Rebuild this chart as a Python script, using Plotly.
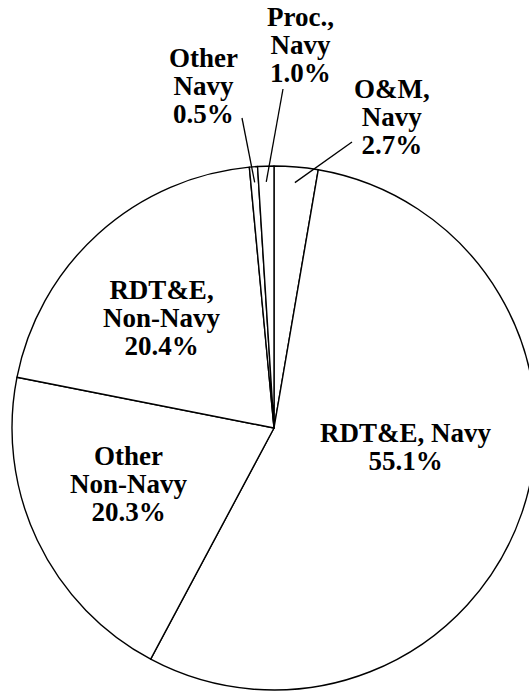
import math
import plotly.graph_objects as go

# Budget shares by category, listed clockwise from 12 o'clock
categories = ["O&M, Navy", "RDT&E, Navy", "Other Non-Navy",
              "RDT&E, Non-Navy", "Other Navy", "Proc., Navy"]
shares = [2.7, 55.1, 20.3, 20.4, 0.5, 1.0]
# How each category name is broken across lines on the chart
label_lines = [["O&M,", "Navy"], ["RDT&E, Navy"], ["Other", "Non-Navy"],
               ["RDT&E,", "Non-Navy"], ["Other", "Navy"], ["Proc.,", "Navy"]]

# ---- page geometry (pixels) ----
W, H = 545, 692
CX, CY, R = 274, 428, 262
FONT = "Liberation Serif, Times New Roman, serif"
GLYPH = 27          # rendered glyph size
LINE_PX = 28        # baseline-to-baseline distance

# label block centres and leader-line outer ends (pixels)
label_pos = {
    "O&M, Navy": (392, 117),
    "RDT&E, Navy": (406, 447),
    "Other Non-Navy": (129, 484),
    "RDT&E, Non-Navy": (162, 318),
    "Other Navy": (203, 86),
    "Proc., Navy": (300, 45),
}
leader_end = {
    "O&M, Navy": (352, 142),
    "Other Navy": (242, 118),
    "Proc., Navy": (283, 89),
}


def px(x, y):
    return x / W, 1 - y / H


fig = go.Figure(go.Pie(
    labels=categories,
    values=shares,
    sort=False,
    direction="clockwise",
    rotation=0,
    textinfo="none",
    hoverinfo="label+percent",
    marker=dict(colors=["white"] * len(shares),
                line=dict(color="black", width=1.4)),
    domain=dict(x=[(CX - R) / W, (CX + R) / W],
                y=[1 - (CY + R) / H, 1 - (CY - R) / H]),
    showlegend=False,
))

total = sum(shares)
annotations = []
shapes = []
cum = 0.0
for name, val, lines in zip(categories, shares, label_lines):
    mid = (cum + val / 2) / total * 2 * math.pi
    cum += val
    text_lines = lines + [f"{val:.1f}%"]
    txt = "<br>".join(f"<span style='font-size:{GLYPH}px'>{t}</span>"
                      for t in text_lines)
    lx, ly = label_pos[name]
    ax_, ay_ = px(lx, ly)
    annotations.append(dict(
        x=ax_, y=ay_, xref="paper", yref="paper",
        xanchor="center", yanchor="middle",
        text=txt, showarrow=False, align="center",
        font=dict(family=FONT, size=LINE_PX / 1.3, color="black",
                  weight="bold"),
    ))
    if name in leader_end:
        r_in = 0.94 * R
        x0 = CX + r_in * math.sin(mid)
        y0 = CY - r_in * math.cos(mid)
        x1, y1 = leader_end[name]
        p0, p1 = px(x0, y0), px(x1, y1)
        shapes.append(dict(type="line", xref="paper", yref="paper",
                           x0=p0[0], y0=p0[1], x1=p1[0], y1=p1[1],
                           line=dict(color="black", width=1.3)))

fig.update_layout(
    width=W, height=H,
    margin=dict(l=0, r=0, t=0, b=0),
    paper_bgcolor="white",
    plot_bgcolor="white",
    font=dict(family=FONT),
    annotations=annotations,
    shapes=shapes,
)

fig.write_html(
    "out.html",
    post_script="document.documentElement.style.overflow='hidden';"
                "document.body.style.overflow='hidden';",
)
